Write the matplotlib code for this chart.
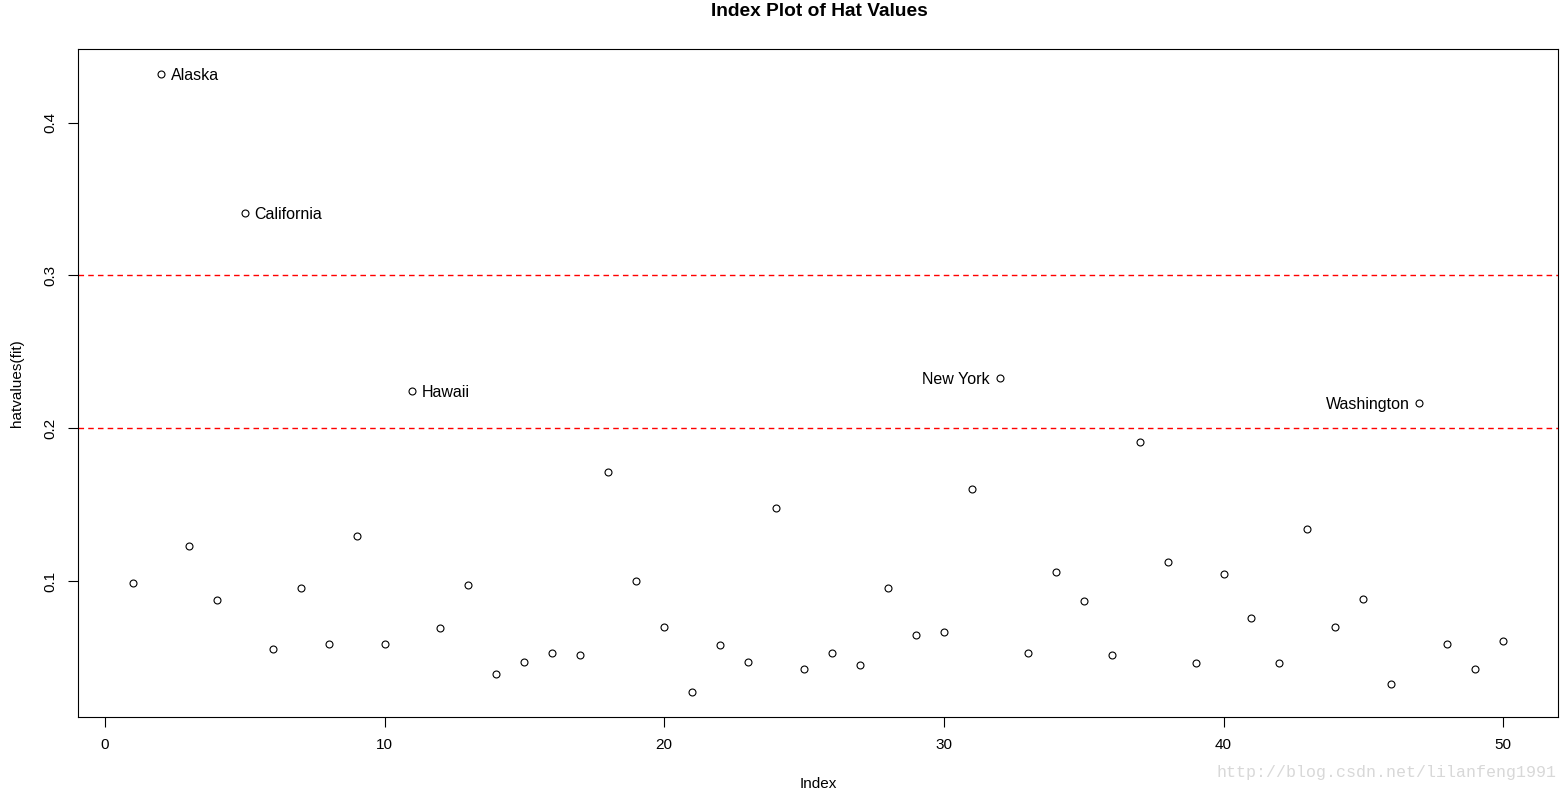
from matplotlib import pyplot as plt
import numpy as np

plt.rcParams['font.family'] = ['Liberation Sans', 'DejaVu Sans']

# hat values, states in index order 1..50
hat = [0.0987, 0.432, 0.1229, 0.0876, 0.341, 0.0555, 0.0954, 0.0587, 0.1295, 0.0587,
       0.2244, 0.0692, 0.0974, 0.0391, 0.0470, 0.0528, 0.0515, 0.1714, 0.1000, 0.0699,
       0.0273, 0.0581, 0.0470, 0.1478, 0.0424, 0.0528, 0.0450, 0.0954, 0.0646, 0.0666,
       0.1602, 0.2329, 0.0528, 0.1059, 0.0869, 0.0515, 0.1910, 0.1124, 0.0463, 0.1046,
       0.0758, 0.0463, 0.1341, 0.0699, 0.0882, 0.0325, 0.2166, 0.0587, 0.0424, 0.0607]
idx = np.arange(1, len(hat) + 1)

labelled = {2: 'Alaska', 5: 'California', 11: 'Hawaii', 32: 'New York', 47: 'Washington'}
left_side = [32, 47]
cutoffs = [0.2, 0.3]

fig = plt.figure(figsize=(15.68, 7.94), dpi=100)
ax = fig.add_axes([78/1568, 1 - 717/794, (1558-78)/1568, (717-49)/794])

ax.plot(idx, hat, 'o', mfc='none', mec='black', ms=5, mew=0.8)
for c in cutoffs:
    ax.axhline(c, color='red', ls=(0, (4, 3)), lw=1)

for i, name in labelled.items():
    if i in left_side:
        ax.annotate(name, (i, hat[i-1]), xytext=(-7, -1), textcoords='offset points',
                    ha='right', va='center', fontsize=11.5)
    else:
        ax.annotate(name, (i, hat[i-1]), xytext=(7, -1), textcoords='offset points',
                    ha='left', va='center', fontsize=11.5)

ax.set_xlim(1 - 0.04*49, 50 + 0.04*49)
r = max(hat) - min(hat)
ax.set_ylim(min(hat) - 0.04*r, max(hat) + 0.04*r)
ax.set_xticks([0, 10, 20, 30, 40, 50])
ax.set_yticks([0.1, 0.2, 0.3, 0.4])
ax.set_yticklabels(['0.1', '0.2', '0.3', '0.4'], rotation=90, va='center')
ax.tick_params(direction='out', length=7, width=0.8, labelsize=11, pad=8)
for s in ax.spines.values():
    s.set_linewidth(0.8)

ax.set_xlabel('Index', fontsize=11, labelpad=18)
ax.set_ylabel('hatvalues(fit)', fontsize=11, labelpad=14)
fig.text(819/1568, 1 - 12/794, 'Index Plot of Hat Values', ha='center', va='center',
         fontsize=13.8, fontweight='bold')

fig.text(1386/1568, 1 - 773/794, 'http://blog.csdn.net/lilanfeng1991', ha='center', va='center',
         fontsize=12, color='#d8d8d8', family=['Liberation Mono', 'DejaVu Sans Mono'])

plt.savefig('out.png', dpi=100)
